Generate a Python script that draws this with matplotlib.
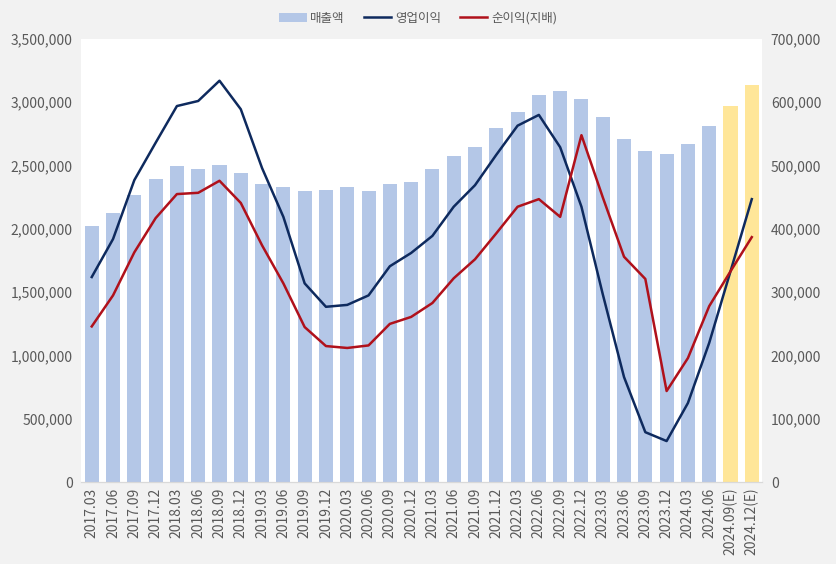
import numpy as np
import matplotlib.pyplot as plt
from matplotlib.ticker import FuncFormatter

plt.rcParams['font.family'] = ['Noto Sans CJK KR', 'DejaVu Sans']

# quarterly figures (매출액 left axis, profits right axis)
quarters = ['2017.03', '2017.06', '2017.09', '2017.12', '2018.03', '2018.06', '2018.09', '2018.12',
            '2019.03', '2019.06', '2019.09', '2019.12', '2020.03', '2020.06', '2020.09', '2020.12',
            '2021.03', '2021.06', '2021.09', '2021.12', '2022.03', '2022.06', '2022.09', '2022.12',
            '2023.03', '2023.06', '2023.09', '2023.12', '2024.03', '2024.06', '2024.09(E)', '2024.12(E)']
sales = [2022000, 2125000, 2267000, 2394000, 2497000, 2473000, 2504000, 2441000,
         2354000, 2331000, 2299000, 2307000, 2331000, 2299000, 2354000, 2370000,
         2473000, 2576000, 2647000, 2797000, 2923000, 3058000, 3089000, 3026000,
         2884000, 2710000, 2615000, 2591000, 2670000, 2813000, 2971000, 3137000]
op_profit = [324000, 384000, 477000, 536000, 594000, 602000, 634000, 589000,
             496000, 419000, 314000, 277000, 280000, 295000, 341000, 362000,
             389000, 435000, 469000, 517000, 563000, 580000, 529000, 435000,
             297000, 166000, 79000, 65000, 125000, 220000, 333000, 447000]
net_profit = [246000, 295000, 363000, 417000, 455000, 457000, 476000, 441000,
              374000, 314000, 245000, 215000, 212000, 216000, 250000, 261000,
              283000, 322000, 352000, 393000, 435000, 447000, 419000, 548000,
              450000, 356000, 321000, 144000, 196000, 278000, 333000, 387000]
n_est = 2

x = np.arange(len(quarters))
bar_colors = ['#B4C7E7'] * (len(quarters) - n_est) + ['#FFE699'] * n_est
gray = '#595959'

fig = plt.figure(figsize=(8.36, 5.64), dpi=100, facecolor='#F2F2F2')
ax = fig.add_axes([0.097, 0.145, 0.815, 0.786])
ax.set_facecolor('white')
ax2 = ax.twinx()

bars = ax.bar(x, sales, width=0.66, color=bar_colors, label='매출액', zorder=2)
l1, = ax2.plot(x, op_profit, color='#0E2A5E', lw=1.8, label='영업이익')
l2, = ax2.plot(x, net_profit, color='#B0111B', lw=1.8, label='순이익(지배)')

ax.set_xlim(-0.5, len(quarters) - 0.5)
ax.set_ylim(0, 3500000)
ax2.set_ylim(0, 700000)
ax.set_yticks(np.arange(0, 3500001, 500000))
ax2.set_yticks(np.arange(0, 700001, 100000))
fmt = FuncFormatter(lambda v, p: f'{int(v):,}')
ax.yaxis.set_major_formatter(fmt)
ax2.yaxis.set_major_formatter(fmt)

ax.set_xticks(x)
ax.set_xticklabels(quarters, rotation=90)
for a in (ax, ax2):
    a.tick_params(length=0, labelsize=10, colors=gray, pad=6)
    for s in ('top', 'left', 'right'):
        a.spines[s].set_visible(False)
    a.spines['bottom'].set_color('#D9D9D9')
ax.tick_params(axis='x', pad=4)

fig.legend([bars, l1, l2], ['매출액', '영업이익', '순이익(지배)'], loc='center',
           bbox_to_anchor=(0.5, 0.968), ncol=3, frameon=False, fontsize=9,
           labelcolor=gray, handlelength=2.2, handletextpad=0.3, columnspacing=1.5)

fig.savefig('out.png', dpi=100, facecolor=fig.get_facecolor())
